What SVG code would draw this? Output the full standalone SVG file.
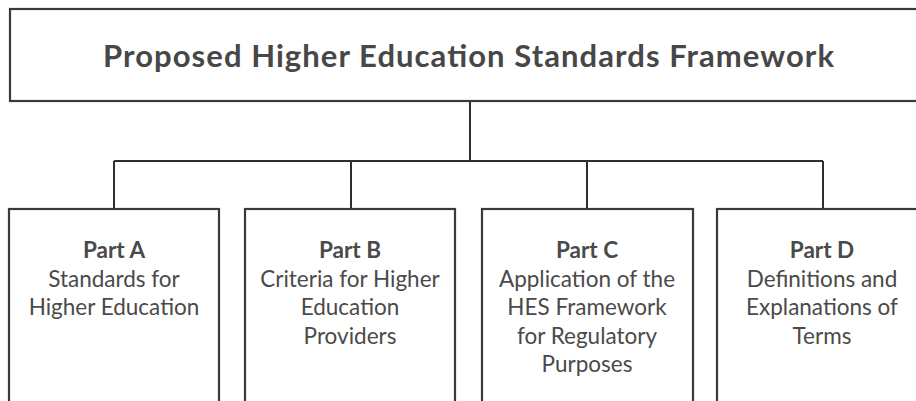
<svg xmlns="http://www.w3.org/2000/svg" width="916" height="401" viewBox="0 0 916 401">
<style>
.box{fill:#ffffff;stroke:#3a3a3a;stroke-width:2.2}
.conn{fill:none;stroke:#2e2e2e;stroke-width:2}
.title{font-family:Lato,"Open Sans","Liberation Sans",sans-serif;font-weight:700;font-size:31px;fill:#474747;text-anchor:middle}
.t{font-family:Lato,"Open Sans","Liberation Sans",sans-serif;font-size:22.5px;fill:#4a4a4a;text-anchor:middle}
.h{font-weight:700}
</style>
<rect width="916" height="401" fill="#ffffff"/>
<g id="connectors">
<path class="conn" d="M470 101 V161"/>
<path class="conn" d="M114 161 H823"/>
<path class="conn" d="M114 161 V209"/>
<path class="conn" d="M351 161 V209"/>
<path class="conn" d="M587 161 V209"/>
<path class="conn" d="M823 161 V209"/>
</g>
<g id="title">
<rect class="box" x="10" y="9" width="920" height="92"/>
<text class="title" x="468.5" y="67" textLength="731" lengthAdjust="spacing">Proposed Higher Education Standards Framework</text>
</g>
<g id="partA">
<rect class="box" x="9" y="209" width="210" height="200"/>
<text class="t" x="114"><tspan class="h" x="114" y="258">Part A</tspan><tspan x="114" y="286.5">Standards for</tspan><tspan x="114" y="315">Higher Education</tspan></text>
</g>
<g id="partB">
<rect class="box" x="245" y="209" width="210" height="200"/>
<text class="t" x="350"><tspan class="h" x="350" y="258">Part B</tspan><tspan x="350" y="286.5">Criteria for Higher</tspan><tspan x="350" y="315">Education</tspan><tspan x="350" y="343.5">Providers</tspan></text>
</g>
<g id="partC">
<rect class="box" x="482" y="209" width="211" height="200"/>
<text class="t" x="587"><tspan class="h" x="587" y="258">Part C</tspan><tspan x="587" y="286.5">Application of the</tspan><tspan x="587" y="315">HES Framework</tspan><tspan x="587" y="343.5">for Regulatory</tspan><tspan x="587" y="372">Purposes</tspan></text>
</g>
<g id="partD">
<rect class="box" x="717" y="209" width="212" height="200"/>
<text class="t" x="822"><tspan class="h" x="822" y="258">Part D</tspan><tspan x="822" y="286.5">Definitions and</tspan><tspan x="822" y="315">Explanations of</tspan><tspan x="822" y="343.5">Terms</tspan></text>
</g>
</svg>
